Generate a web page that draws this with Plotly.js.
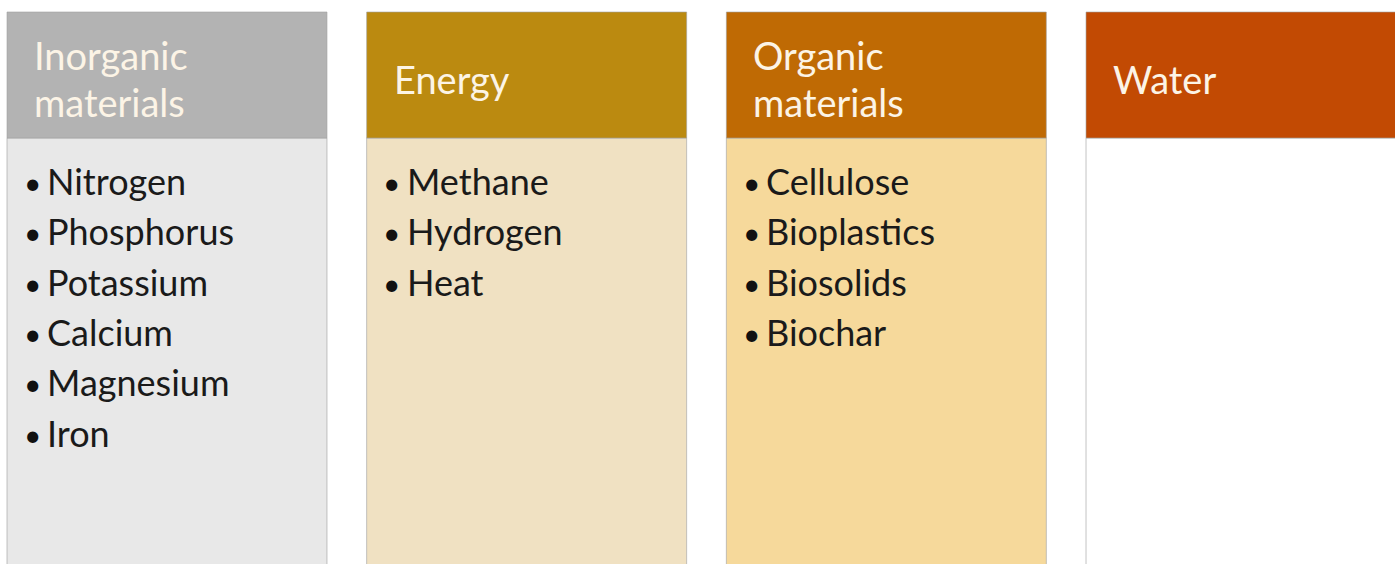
<!DOCTYPE html>
<html>
<head>
<meta charset="utf-8">
<script src="https://cdn.plot.ly/plotly-3.0.1.min.js"></script>
<style>
  html, body { margin: 0; padding: 0; background: #ffffff; }
  #diagram { width: 1395px; height: 564px; }
</style>
</head>
<body>
<div id="diagram"></div>
<script>
// Four resource categories recovered, with their items
var categories = [["Inorganic", "materials"], ["Energy"], ["Organic", "materials"], ["Water"]];

var items = [
    ["Nitrogen", "Phosphorus", "Potassium", "Calcium", "Magnesium", "Iron"],
    ["Methane", "Hydrogen", "Heat"],
    ["Cellulose", "Bioplastics", "Biosolids", "Biochar"],
    []
];

var headerColors = ["#b3b3b3", "#bb8a10", "#bf6a04", "#c24a03"];
var bodyColors = ["#e8e8e8", "#f0e1c2", "#f6d99b", "#ffffff"];

var colIdx = categories.map(function (c, i) { return i; });
var px = 1 / 359.7;           // one pixel in column units
var boxW = 320 * px;

var dati = [
    {   // body panels
        type: 'bar',
        x: colIdx,
        base: colIdx.map(function () { return 138; }),
        y: colIdx.map(function () { return 440; }),
        width: boxW,
        marker: { color: bodyColors, line: { color: 'rgba(170,170,170,0.7)', width: 1 } },
        hoverinfo: 'skip'
    },
    {   // header bands
        type: 'bar',
        x: colIdx,
        base: colIdx.map(function () { return 12; }),
        y: colIdx.map(function () { return 126; }),
        width: boxW,
        marker: { color: headerColors, line: { color: 'rgba(160,160,160,0.6)', width: 1 } },
        hoverinfo: 'skip'
    }
];

var annotations = [];
categories.forEach(function (lines, i) {
    var left = i - boxW / 2;
    var ys = lines.length === 2 ? [55, 102] : [79];
    lines.forEach(function (t, k) {
        annotations.push({
            x: left + 26 * px, y: ys[k], xref: 'x', yref: 'y',
            text: t, showarrow: false, xanchor: 'left', yanchor: 'middle', borderpad: 0,
            font: { family: 'Lato, sans-serif', size: 38, color: '#fcf4e6' }
        });
    });
    items[i].forEach(function (t, k) {
        var y = 181 + k * 50.3;
        annotations.push({
            x: left + 25 * px, y: y + 1, xref: 'x', yref: 'y',
            text: '•', showarrow: false, xanchor: 'center', yanchor: 'middle',
            font: { family: 'Lato, sans-serif', size: 30, color: '#111111' }
        });
        annotations.push({
            x: left + 38 * px, y: y, xref: 'x', yref: 'y',
            text: t, showarrow: false, xanchor: 'left', yanchor: 'middle',
            font: { family: 'Lato, sans-serif', size: 36, color: '#1a1a1a' }
        });
    });
});

var layout = {
    width: 1395,
    height: 564,
    margin: { l: 0, r: 0, t: 0, b: 0 },
    paper_bgcolor: '#ffffff',
    plot_bgcolor: '#ffffff',
    showlegend: false,
    barmode: 'overlay',
    xaxis: { range: [-167 * px, 3 + (1395 - 1246) * px], visible: false, fixedrange: true },
    yaxis: { range: [564, 0], visible: false, fixedrange: true },
    annotations: annotations
};

Plotly.newPlot('diagram', dati, layout, { displayModeBar: false, staticPlot: true });
</script>
</body>
</html>
